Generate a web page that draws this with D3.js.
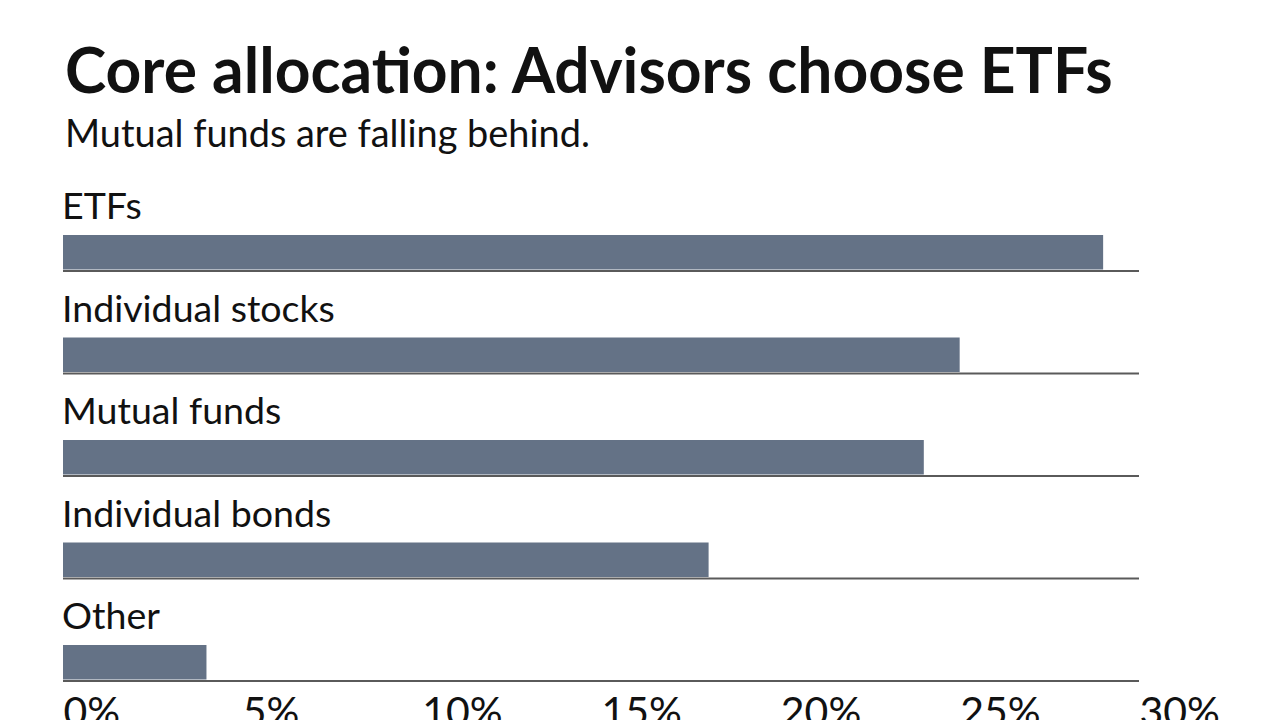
<!DOCTYPE html>
<html>
<head>
<meta charset="utf-8">
<script src="https://cdn.jsdelivr.net/npm/d3@7"></script>
<style>
  html, body { margin: 0; padding: 0; background: #fff; overflow: hidden; }
  svg { display: block; }
  text { font-family: Lato, "Open Sans", sans-serif; fill: #111; }
</style>
</head>
<body>
<svg id="chart" width="1280" height="720"></svg>
<script>
const titleText = "Core allocation: Advisors choose ETFs";
const subtitleText = "Mutual funds are falling behind.";
const categories = ["ETFs", "Individual stocks", "Mutual funds", "Individual bonds", "Other"];
const values = [29, 25, 24, 18, 4];
const tickValues = [0, 5, 10, 15, 20, 25, 30];

const svg = d3.select("#chart");
const W = 1280, H = 720;
const left = 63, right = 1139;
const barColor = "#647286";

function fitText(sel, targetWidth, startSize) {
  let size = startSize;
  sel.style("font-size", size + "px");
  const w = sel.node().getComputedTextLength();
  size = size * targetWidth / w;
  sel.style("font-size", size + "px");
  return size;
}

// Title
const title = svg.append("text").attr("x", 65).attr("y", 93)
  .style("font-weight", 700).text(titleText);
fitText(title, 1048, 60);

const sub = svg.append("text").attr("x", 65).attr("y", 147)
  .style("font-weight", 400).text(subtitleText);
fitText(sub, 525, 34);

const x = d3.scaleLinear().domain([0, 30]).range([left, right]);
const y = d3.scaleBand().domain(categories).range([183, 183 + 102.5 * categories.length]).padding(0);

const rows = svg.append("g").selectAll("g").data(categories).join("g")
  .attr("transform", d => `translate(0,${y(d)})`);

const labels = rows.append("text")
  .attr("x", 62).attr("y", 36)
  .style("font-size", "34px")
  .text(d => d);
const refNode = labels.filter(d => d === "Individual stocks");
const labelSize = fitText(refNode, 273, 34);
labels.style("font-size", labelSize + "px");

rows.append("rect")
  .attr("x", x(0))
  .attr("y", 52)
  .attr("height", 34.5)
  .attr("width", (d, i) => x(values[i]) - x(0))
  .attr("fill", barColor);

rows.append("line")
  .attr("x1", x(0)).attr("x2", right)
  .attr("y1", 88).attr("y2", 88)
  .attr("stroke", "#5a5a5a")
  .attr("stroke-width", 2);

// Axis
const axis = d3.axisBottom(x)
  .tickValues(tickValues)
  .tickSize(0)
  .tickPadding(0)
  .tickFormat(d => d + "%");

const ag = svg.append("g").attr("transform", `translate(0,${y.range()[1] - 7})`).call(axis);
ag.select(".domain").remove();
ag.selectAll("text")
  .attr("text-anchor", "start")
  .attr("dy", 0)
  .attr("y", 37)
  .style("font-family", "Lato, 'Open Sans', sans-serif")
  .style("font-size", "41px")
  .style("fill", "#111");
</script>
</body>
</html>
